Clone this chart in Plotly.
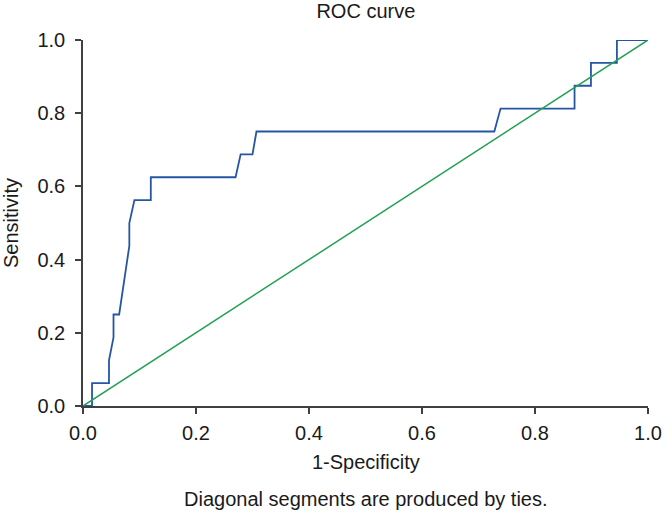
import plotly.graph_objects as go

# ROC curve points (1-specificity, sensitivity)
fpr = [0.0, 0.016, 0.016, 0.046, 0.046, 0.054, 0.054, 0.064, 0.082, 0.082, 0.091, 0.120, 0.120,
       0.270, 0.279, 0.300, 0.307, 0.728, 0.739, 0.870, 0.870, 0.899, 0.899, 0.945, 0.945, 1.0]
tpr = [0.0, 0.0, 0.0625, 0.0625, 0.125, 0.1875, 0.25, 0.25, 0.4375, 0.5, 0.5625, 0.5625, 0.625,
       0.625, 0.6875, 0.6875, 0.75, 0.75, 0.8125, 0.8125, 0.875, 0.875, 0.9375, 0.9375, 1.0, 1.0]
ref_x = [0.0, 1.0]
ref_y = [0.0, 1.0]
tick_vals = [0.0, 0.2, 0.4, 0.6, 0.8, 1.0]
tick_text = ["0.0", "0.2", "0.4", "0.6", "0.8", "1.0"]

FONT = "Liberation Sans, Arial, sans-serif"
AXC = "#404040"
TXT = "#1a1a1a"
FS = 20

fig = go.Figure()
fig.add_trace(go.Scatter(x=fpr, y=tpr, mode="lines", line=dict(color="#2656a3", width=1.8),
                         showlegend=False, hoverinfo="skip", cliponaxis=False))
fig.add_trace(go.Scatter(x=ref_x, y=ref_y, mode="lines", line=dict(color="#22a055", width=1.5),
                         showlegend=False, hoverinfo="skip", cliponaxis=False))

axis_common = dict(range=[0, 1], tickvals=tick_vals, ticktext=tick_text, showgrid=False,
                   zeroline=False, showline=True, linecolor=AXC, linewidth=1.5,
                   ticks="outside", ticklen=6, tickwidth=1.5, tickcolor=AXC, automargin=False,
                   tickfont=dict(family=FONT, size=FS, color=TXT))

fig.update_layout(
    width=664, height=514,
    margin=dict(l=83, r=16, t=40, b=108, autoexpand=False),
    paper_bgcolor="white", plot_bgcolor="white",
    font=dict(family=FONT, color=TXT),
    title=dict(text="ROC curve", x=0.551, xanchor="center", y=0.979, yanchor="middle",
               font=dict(family=FONT, size=FS, color=TXT)),
    xaxis=dict(**axis_common, ticklabelstandoff=2),
    yaxis=dict(**axis_common, ticklabelstandoff=6),
    annotations=[
        dict(text="1-Specificity", xref="paper", yref="paper", x=0.5, y=0,
             yshift=-56, xanchor="center", yanchor="middle", showarrow=False,
             font=dict(family=FONT, size=FS, color=TXT)),
        dict(text="Sensitivity", xref="paper", yref="paper", x=0, y=0.5, xshift=-72,
             textangle=-90, xanchor="center", yanchor="middle", showarrow=False,
             font=dict(family=FONT, size=FS, color=TXT)),
        dict(text="Diagonal segments are produced by ties.", xref="paper", yref="paper",
             x=0.5, y=0, yshift=-93, xanchor="center", yanchor="middle", showarrow=False,
             font=dict(family=FONT, size=FS, color=TXT)),
    ],
)

fig.write_html("out.html", config={"displayModeBar": False},
               post_script="document.body.style.margin='0';document.body.style.overflow='hidden';")
